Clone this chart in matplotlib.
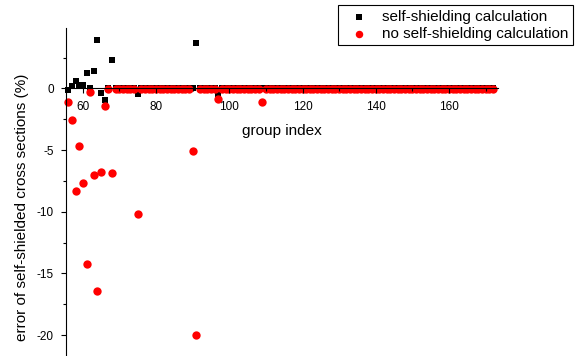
import matplotlib
matplotlib.use("Agg")
import matplotlib.pyplot as plt
from matplotlib.ticker import MultipleLocator, FuncFormatter

plt.rcParams['font.family'] = ['Liberation Sans', 'DejaVu Sans']
plt.rcParams['axes.unicode_minus'] = False

groups = list(range(56, 173))

self_shielding = [
    -0.15, 0.2, 0.6, 0.25, 0.3, 1.25, 0.0, 1.4, 3.95, -0.35,      # 56-65
    -0.95, 0.0, 2.3, 0.0, 0.0, 0.0, 0.0, 0.0, 0.0, -0.45,         # 66-75
    0.0, 0.0, 0.0, 0.0, 0.0, 0.0, 0.0, 0.0, 0.0, 0.0,             # 76-85
    0.0, 0.0, 0.0, 0.0, 0.0, 3.7, 0.0, 0.0, 0.0, 0.0,             # 86-95
    0.0, -0.45, 0.0, 0.0, 0.0, 0.0, 0.0, 0.0, 0.0, 0.0,           # 96-105
    0.0, 0.0, 0.0, 0.0, 0.0, 0.0, 0.0, 0.0, 0.0, 0.0,             # 106-115
    0.0, 0.0, 0.0, 0.0, 0.0, 0.0, 0.0, 0.0, 0.0, 0.0,             # 116-125
    0.0, 0.0, 0.0, 0.0, 0.0, 0.0, 0.0, 0.0, 0.0, 0.0,             # 126-135
    0.0, 0.0, 0.0, 0.0, 0.0, 0.0, 0.0, 0.0, 0.0, 0.0,             # 136-145
    0.0, 0.0, 0.0, 0.0, 0.0, 0.0, 0.0, 0.0, 0.0, 0.0,             # 146-155
    0.0, 0.0, 0.0, 0.0, 0.0, 0.0, 0.0, 0.0, 0.0, 0.0,             # 156-165
    0.0, 0.0, 0.0, 0.0, 0.0, 0.0, 0.0,                            # 166-172
]

no_self_shielding = [
    -1.1, -2.6, -8.3, -4.7, -7.7, -14.2, -0.25, -7.0, -16.4, -6.8,          # 56-65
    -1.4, -0.05, -6.85, -0.05, -0.05, -0.05, -0.05, -0.05, -0.05, -10.2,    # 66-75
    -0.05, -0.05, -0.05, -0.05, -0.05, -0.05, -0.05, -0.05, -0.05, -0.05,   # 76-85
    -0.05, -0.05, -0.05, -0.05, -5.1, -20.0, -0.05, -0.05, -0.05, -0.05,    # 86-95
    -0.05, -0.85, -0.05, -0.05, -0.05, -0.05, -0.05, -0.05, -0.05, -0.05,   # 96-105
    -0.05, -0.05, -0.05, -1.1, -0.05, -0.05, -0.05, -0.05, -0.05, -0.05,    # 106-115
    -0.05, -0.05, -0.05, -0.05, -0.05, -0.05, -0.05, -0.05, -0.05, -0.05,   # 116-125
    -0.05, -0.05, -0.05, -0.05, -0.05, -0.05, -0.05, -0.05, -0.05, -0.05,   # 126-135
    -0.05, -0.05, -0.05, -0.05, -0.05, -0.05, -0.05, -0.05, -0.05, -0.05,   # 136-145
    -0.05, -0.05, -0.05, -0.05, -0.05, -0.05, -0.05, -0.05, -0.05, -0.05,   # 146-155
    -0.05, -0.05, -0.05, -0.05, -0.05, -0.05, -0.05, -0.05, -0.05, -0.05,   # 156-165
    -0.05, -0.05, -0.05, -0.05, -0.05, -0.05, -0.05,                        # 166-172
]

W, H = 588, 356
fig = plt.figure(figsize=(W / 100, H / 100), dpi=100)
ax = fig.add_axes([66 / W, 0.0, (498 - 66) / W, (356 - 28) / H])

ax.scatter(groups, self_shielding, marker='s', s=24, color='black',
           linewidths=0, zorder=1, clip_on=False,
           label='self-shielding calculation')
ax.scatter(groups, no_self_shielding, marker='o', s=36, color='#ff0000',
           linewidths=0, zorder=1.5, clip_on=False,
           label='no self-shielding calculation')

ax.set_xlim(55.4, 173.4)
ax.set_ylim(-21.7, 4.9)

for side in ('top', 'right'):
    ax.spines[side].set_visible(False)
ax.spines['bottom'].set_position(('data', 0))
for side in ('left', 'bottom'):
    ax.spines[side].set_linewidth(0.8)
    ax.spines[side].set_zorder(3)

ax.xaxis.set_major_locator(MultipleLocator(20))
ax.xaxis.set_minor_locator(MultipleLocator(10))
ax.yaxis.set_major_locator(MultipleLocator(5))
ax.yaxis.set_minor_locator(MultipleLocator(2.5))
ax.yaxis.set_major_formatter(FuncFormatter(lambda v, p: f"{v:g}"))

ax.tick_params(axis='both', which='major', direction='out', length=3.8,
               width=0.8, labelsize=8.5, pad=5)
ax.tick_params(axis='both', which='minor', direction='out', length=2.3,
               width=0.8)

ax.set_ylabel('error of self-shielded cross sections (%)', fontsize=11,
              va='center')
ax.yaxis.set_label_coords((22 - 66) / (498 - 66), (356 - 207) / (356 - 28))

fig.text(282 / W, 1 - 131 / H, 'group index', fontsize=11,
         ha='center', va='center')

leg = fig.legend(loc='upper left', bbox_to_anchor=(338 / W, 1 - 5 / H),
                 bbox_transform=fig.transFigure, fontsize=11,
                 frameon=True, fancybox=False, framealpha=1,
                 edgecolor='black', borderpad=0.3, handlelength=2.1,
                 handletextpad=0.45, labelspacing=0.2, borderaxespad=0,
                 markerscale=0.9)
leg.get_frame().set_linewidth(0.8)

fig.savefig('out.png', dpi=100)
